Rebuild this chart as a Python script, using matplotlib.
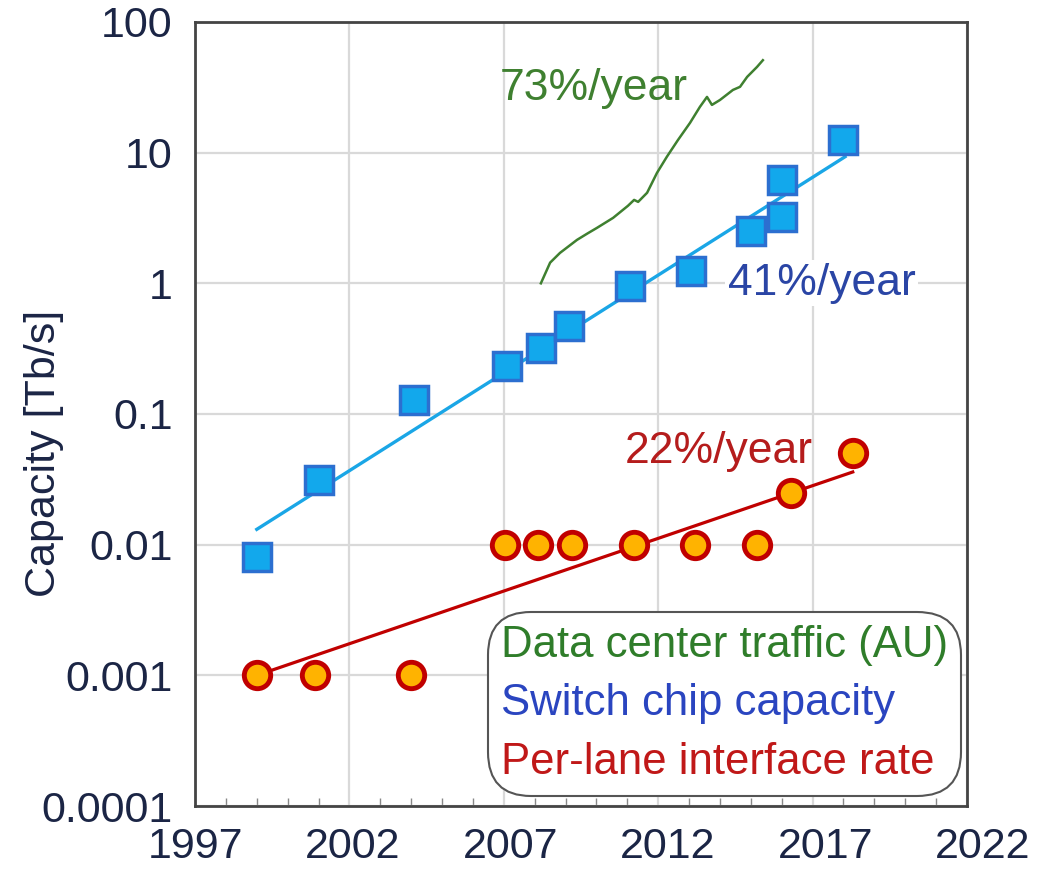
import matplotlib.pyplot as plt
from matplotlib.ticker import FixedLocator, MultipleLocator, FixedFormatter
from matplotlib.transforms import ScaledTranslation

plt.rcParams['font.family'] = ['Liberation Sans', 'DejaVu Sans']

# switch chip capacity (blue squares)
switch_years = [1999, 2001, 2004.1, 2007.1, 2008.2, 2009.1, 2011.1, 2013.05, 2015, 2016, 2016, 2018]
switch_cap = [0.008, 0.031, 0.127, 0.235, 0.32, 0.47, 0.95, 1.24, 2.5, 3.2, 6.2, 12.5]
switch_fit_years = [1999, 2018.05]
switch_fit_cap = [0.0131, 9.3]

# per-lane interface rate (red circles)
lane_years = [1999, 2000.9, 2004, 2007.05, 2008.1, 2009.2, 2011.2, 2013.2, 2015.2, 2016.3, 2018.3]
lane_rate = [0.001, 0.001, 0.001, 0.01, 0.01, 0.01, 0.01, 0.01, 0.01, 0.025, 0.05]
lane_fit_years = [1999, 2018.3]
lane_fit_rate = [0.001, 0.036]

# data center traffic (green, arbitrary units)
traffic_years = [2008.2, 2008.5, 2008.82, 2009.37, 2009.7, 2010.02, 2010.54, 2011.02, 2011.22,
                 2011.35, 2011.64, 2011.96, 2012.28, 2012.64, 2013.03, 2013.35, 2013.58,
                 2013.74, 2014.0, 2014.42, 2014.65, 2014.88, 2015.2, 2015.39]
traffic = [1.0, 1.44, 1.71, 2.15, 2.4, 2.66, 3.17, 3.92, 4.35, 4.2, 4.93, 7.0, 9.3, 12.5,
           16.9, 22.4, 26.7, 23.2, 25.3, 30.2, 31.9, 38, 45.3, 51]

x_ticks = [1997, 2002, 2007, 2012, 2017, 2022]
y_ticks = [0.0001, 0.001, 0.01, 0.1, 1, 10, 100]
y_labels = ['0.0001', '0.001', '0.01', '0.1', '1', '10', '100']

navy = '#1b2545'
green = '#3f8030'
blue_text = '#2a45a5'
red = '#c00000'

fig = plt.figure(figsize=(10.39, 8.76), dpi=100)
ax = fig.add_axes([0.1877, 0.0799, 0.7430, 0.8950])

ax.set_yscale('log')
ax.set_xlim(1997, 2022)
ax.set_ylim(0.0001, 100)

ax.grid(True, color='#d9d9d9', linewidth=1.6, which='major')
ax.set_axisbelow(True)

ax.plot(traffic_years, traffic, color=green, linewidth=1.8)
ax.plot(switch_fit_years, switch_fit_cap, color='#1aa6e6', linewidth=2.4)
ax.plot(lane_fit_years, lane_fit_rate, color=red, linewidth=2.3)
ax.plot(switch_years, switch_cap, 's', markersize=19.5, markerfacecolor='#12a8ec',
        markeredgecolor='#2c6fd0', markeredgewidth=2.5, linestyle='none')
ax.plot(lane_years, lane_rate, 'o', markersize=19, markerfacecolor='#ffb300',
        markeredgecolor='#c00000', markeredgewidth=3.5, linestyle='none')

ax.text(2009.9, 31, '73%/year', color=green, fontsize=32, ha='center', va='center')
ax.text(2017.3, 1.0, '41%/year', color=blue_text, fontsize=32, ha='center', va='center',
        bbox=dict(facecolor='white', edgecolor='none', pad=2))
ax.text(2013.95, 0.052, '22%/year', color='#b51c1c', fontsize=32, ha='center', va='center')

ax.xaxis.set_major_locator(FixedLocator(x_ticks))
ax.xaxis.set_minor_locator(MultipleLocator(1))
ax.yaxis.set_major_locator(FixedLocator(y_ticks))
ax.yaxis.set_major_formatter(FixedFormatter(y_labels))
ax.yaxis.set_minor_locator(FixedLocator([]))
ax.tick_params(axis='x', which='major', length=0, pad=15, labelsize=31, labelcolor=navy)
ax.tick_params(axis='x', which='minor', direction='in', length=6, width=1, color='#888888')
ax.tick_params(axis='y', which='major', length=0, pad=16, labelsize=31, labelcolor=navy)

# the year labels in the original sit a little further right as they go
for i, lbl in enumerate(ax.get_xticklabels()):
    lbl.set_transform(lbl.get_transform() + ScaledTranslation(i * 3.2 / 100, 0, fig.dpi_scale_trans))

for s in ax.spines.values():
    s.set_color('#444444')
    s.set_linewidth(2)

ax.set_ylabel('Capacity [Tb/s]', fontsize=31, color=navy)
ax.yaxis.set_label_coords(-0.17, 0.45)

# legend as coloured text only
leg_handles = [plt.Line2D([], [], linestyle='none') for _ in range(3)]
leg = ax.legend(leg_handles, ['Data center traffic (AU)', 'Switch chip capacity', 'Per-lane interface rate'],
                loc='lower right', bbox_to_anchor=(0.981, 0.024), borderaxespad=0,
                fontsize=31.5, handlelength=0, handletextpad=0, labelspacing=0.4,
                fancybox=True, framealpha=1, edgecolor='#555555', borderpad=0.1)
leg.get_frame().set_linewidth(1.5)
leg.get_frame().set_boxstyle('round', pad=0.2, rounding_size=1.0)
for t, c in zip(leg.get_texts(), ['#2f7d2a', '#2a45c0', '#c01818']):
    t.set_color(c)

fig.savefig('out.png', dpi=100)
